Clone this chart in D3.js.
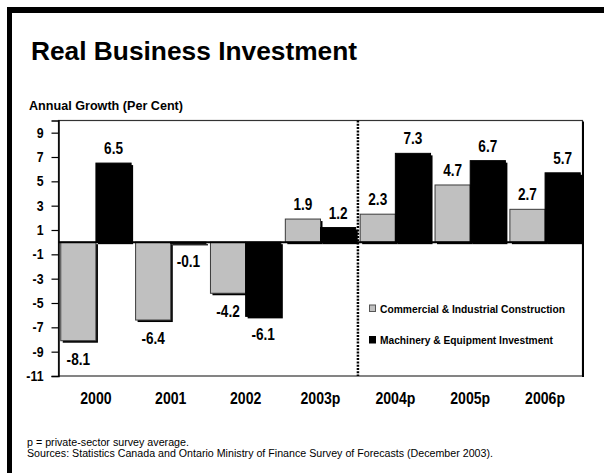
<!DOCTYPE html>
<html>
<head>
<meta charset="utf-8">
<script src="https://cdn.jsdelivr.net/npm/d3@7"></script>
<style>
  html, body { margin: 0; padding: 0; background: #fff; }
  svg { display: block; }
  text { font-family: "Liberation Sans", Arial, sans-serif; fill: #000; }
</style>
</head>
<body>
<svg id="chart" width="604" height="473"></svg>
<script>
// Annual growth in real business investment, per cent
const years = ["2000", "2001", "2002", "2003p", "2004p", "2005p", "2006p"];
const seriesNames = ["Commercial & Industrial Construction", "Machinery & Equipment Investment"];
const construction = [-8.1, -6.4, -4.2, 1.9, 2.3, 4.7, 2.7];
const machinery = [6.5, -0.1, -6.1, 1.2, 7.3, 6.7, 5.7];
const yTicks = [-11, -9, -7, -5, -3, -1, 1, 3, 5, 7, 9];
const seriesColors = ["#c0c0c0", "#000000"];

const svg = d3.select("#chart");
const W = 604, H = 473;
const plot = { left: 58.5, right: 582.5, top: 120.5, bottom: 376 };
const hyphenLocale = d3.formatLocale({ decimal: ".", thousands: ",", grouping: [3], currency: ["$", ""], minus: "-" });
const fmtVal = hyphenLocale.format(".1f");
const fmtTick = hyphenLocale.format("d");

// Narrow a text run horizontally, mimicking a condensed typeface
function squeeze(sel, sx) {
  sel.each(function () {
    const w = this.getComputedTextLength();
    d3.select(this).attr("textLength", w * sx).attr("lengthAdjust", "spacingAndGlyphs");
  });
}

svg.append("rect").attr("width", W).attr("height", H).attr("fill", "#fff");

// Heavy black frame (runs off the right and bottom edges)
svg.append("line").attr("x1", 7).attr("x2", W + 5).attr("y1", 10).attr("y2", 10)
  .attr("stroke", "#000").attr("stroke-width", 6);
svg.append("line").attr("x1", 9.5).attr("x2", 9.5).attr("y1", 7).attr("y2", H + 5)
  .attr("stroke", "#000").attr("stroke-width", 5);

// Title and axis caption
svg.append("text").attr("x", 31).attr("y", 60)
  .attr("font-size", 25.5).attr("font-weight", "bold")
  .attr("textLength", 326).attr("lengthAdjust", "spacingAndGlyphs")
  .text("Real Business Investment");
svg.append("text").attr("x", 29).attr("y", 109.5)
  .attr("font-size", 12).attr("font-weight", "bold")
  .attr("textLength", 154).attr("lengthAdjust", "spacingAndGlyphs")
  .text("Annual Growth (Per Cent)");

const y = d3.scaleLinear().domain([-11, 10]).range([plot.bottom, plot.top]);
const x0 = d3.scaleBand().domain(years).range([plot.left, plot.right])
  .paddingInner(0.06).paddingOuter(0.03);
const x1 = d3.scaleBand().domain([0, 1]).range([0, x0.bandwidth()]);

// Plot area frame
svg.append("rect")
  .attr("x", plot.left).attr("y", plot.top)
  .attr("width", plot.right - plot.left).attr("height", plot.bottom - plot.top)
  .attr("fill", "#fff").attr("stroke", "#333").attr("stroke-width", 1.2);
svg.append("line").attr("x1", plot.right + 0.5).attr("x2", plot.right + 0.5)
  .attr("y1", plot.top + 1).attr("y2", plot.bottom + 1)
  .attr("stroke", "#000").attr("stroke-width", 2);

// Forecast divider between 2003p and 2004p
const divX = (x0("2003p") + x0.bandwidth() + x0("2004p")) / 2;
svg.append("line").attr("x1", divX).attr("x2", divX)
  .attr("y1", plot.top).attr("y2", plot.bottom)
  .attr("stroke", "#000").attr("stroke-width", 2.5).attr("stroke-dasharray", "2,1.3");

const rows = years.map((yr, i) => ({ year: yr, vals: [construction[i], machinery[i]] }));
const bars = [];
rows.forEach(r => r.vals.forEach((v, s) => bars.push({ year: r.year, s, v })));

const g = svg.append("g");
// Drop shadows
g.selectAll("rect.shadow").data(bars).join("rect").attr("class", "shadow")
  .attr("x", d => x0(d.year) + x1(d.s) + 2)
  .attr("y", d => Math.min(y(d.v), y(0)) + 2)
  .attr("width", x1.bandwidth())
  .attr("height", d => Math.abs(y(d.v) - y(0)))
  .attr("fill", "#000");
// Bars
g.selectAll("rect.bar").data(bars).join("rect").attr("class", "bar")
  .attr("x", d => x0(d.year) + x1(d.s))
  .attr("y", d => Math.min(y(d.v), y(0)))
  .attr("width", x1.bandwidth())
  .attr("height", d => Math.abs(y(d.v) - y(0)))
  .attr("fill", d => seriesColors[d.s])
  .attr("stroke", d => d.s === 0 ? "#3a3a3a" : "#000").attr("stroke-width", 1);

// Zero line
svg.append("line").attr("x1", plot.left).attr("x2", plot.right)
  .attr("y1", y(0)).attr("y2", y(0)).attr("stroke", "#000").attr("stroke-width", 2);

// Value labels
svg.selectAll("text.val").data(bars).join("text").attr("class", "val")
  .attr("x", d => x0(d.year) + x1(d.s) + x1.bandwidth() / 2)
  .attr("y", d => d.v >= 0 ? y(d.v) - 9 : y(d.v) + 24)
  .attr("text-anchor", "middle").attr("font-size", 16).attr("font-weight", "bold")
  .text(d => fmtVal(d.v))
  .call(squeeze, 0.85);

// Y axis
const yAxis = svg.append("g").attr("transform", `translate(${plot.left},0)`)
  .call(d3.axisLeft(y).tickValues(yTicks).tickSize(7).tickPadding(8).tickFormat(fmtTick));
yAxis.select(".domain").attr("stroke", "#000").attr("stroke-width", 1.5);
yAxis.selectAll(".tick line").attr("stroke", "#000").attr("stroke-width", 1.2);
yAxis.selectAll(".tick text").attr("font-size", 14.5).attr("font-weight", "bold")
  .attr("fill", "#000").attr("font-family", null)
  .call(squeeze, 0.85);

// Category labels
svg.selectAll("text.cat").data(years).join("text").attr("class", "cat")
  .attr("x", d => x0(d) + x0.bandwidth() / 2).attr("y", 403.5)
  .attr("text-anchor", "middle").attr("font-size", 16).attr("font-weight", "bold")
  .text(d => d)
  .call(squeeze, 0.88);

// Legend
const legendWidths = [185, 173];
const legend = svg.append("g");
seriesNames.forEach((name, i) => {
  const ly = 312.5 + i * 31.5;
  legend.append("rect").attr("x", 369.5).attr("y", ly - 7.5).attr("width", 6).attr("height", 6.5)
    .attr("fill", seriesColors[i]).attr("stroke", i === 0 ? "#555" : "#000").attr("stroke-width", 1);
  legend.append("text").attr("x", 380).attr("y", ly)
    .attr("font-size", 10.5).attr("font-weight", "bold")
    .attr("textLength", legendWidths[i]).attr("lengthAdjust", "spacingAndGlyphs")
    .text(name);
});

// Footnotes
svg.append("text").attr("x", 27).attr("y", 445.5).attr("font-size", 10)
  .attr("textLength", 162).attr("lengthAdjust", "spacingAndGlyphs")
  .text("p = private-sector survey average.");
svg.append("text").attr("x", 27).attr("y", 457).attr("font-size", 10)
  .attr("textLength", 466).attr("lengthAdjust", "spacingAndGlyphs")
  .text("Sources:  Statistics Canada and Ontario Ministry of Finance Survey of Forecasts (December 2003).");
</script>
</body>
</html>
